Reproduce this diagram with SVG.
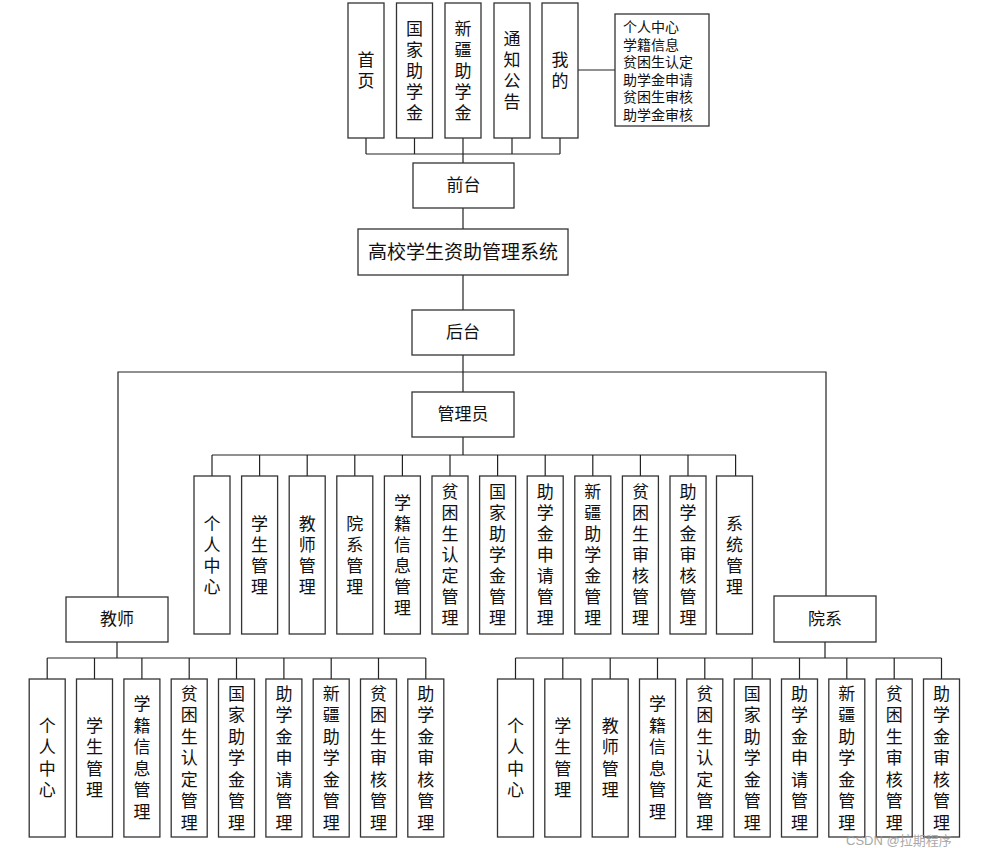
<svg xmlns="http://www.w3.org/2000/svg" width="986" height="848" viewBox="0 0 986 848">
<style>
.box{fill:#fff;stroke:#333;stroke-width:1.3}
.t{font-family:"Liberation Serif","Noto Sans CJK SC",serif;font-size:17px;fill:#111;text-anchor:middle;dominant-baseline:central}
.v{font-family:"Liberation Serif","Noto Sans CJK SC",serif;font-size:17px;fill:#111;text-anchor:middle;dominant-baseline:central}
.s{font-family:"Liberation Serif","Noto Sans CJK SC",serif;font-size:14px;fill:#111;dominant-baseline:central}
.ln{fill:none;stroke:#222;stroke-width:1.2}
.wm{font-family:"Liberation Sans","Noto Sans CJK SC",sans-serif;font-size:13px;fill:#9a9a9a;opacity:0.85}
</style>
<rect width="986" height="848" fill="#fff"/>
<g id="connectors" class="ln">
<path d="M366 138V154M414.5 138V154M463 138V154M512 138V154M560 138V154M366 154H560M463 154V163"/>
<path d="M578 70H615"/>
<path d="M463 208V229M463 275V310M463 355V392"/>
<path d="M118 597V372H826V596"/>
<path d="M463 437V455M212 455H736"/>
<path d="M212 455V476M259.6 455V476M307.2 455V476M354.8 455V476M402.4 455V476M450 455V476M497.6 455V476M545.2 455V476M592.8 455V476M640.4 455V476M688 455V476M735.6 455V476"/>
<path d="M117 642V658M47.2 658H425.8"/>
<path d="M47.2 658V679M94.5 658V679M141.9 658V679M189.2 658V679M236.5 658V679M283.9 658V679M331.2 658V679M378.5 658V679M425.8 658V679"/>
<path d="M825 642V658M515.5 658H941.5"/>
<path d="M515.5 658V679M562.8 658V679M610.2 658V679M657.5 658V679M704.8 658V679M752.2 658V679M799.5 658V679M846.8 658V679M894.2 658V679M941.5 658V679"/>
</g>
<g id="top-home"><rect class="box" x="348" y="3" width="36" height="135"/><text class="v"><tspan x="366" y="60">首</tspan><tspan x="366" dy="21">页</tspan></text></g>
<g id="top-national"><rect class="box" x="396.5" y="3" width="36" height="135"/><text class="v"><tspan x="414.5" y="28.5">国</tspan><tspan x="414.5" dy="21">家</tspan><tspan x="414.5" dy="21">助</tspan><tspan x="414.5" dy="21">学</tspan><tspan x="414.5" dy="21">金</tspan></text></g>
<g id="top-xinjiang"><rect class="box" x="445" y="3" width="36" height="135"/><text class="v"><tspan x="463" y="28.5">新</tspan><tspan x="463" dy="21">疆</tspan><tspan x="463" dy="21">助</tspan><tspan x="463" dy="21">学</tspan><tspan x="463" dy="21">金</tspan></text></g>
<g id="top-notice"><rect class="box" x="494" y="3" width="36" height="135"/><text class="v"><tspan x="512" y="39">通</tspan><tspan x="512" dy="21">知</tspan><tspan x="512" dy="21">公</tspan><tspan x="512" dy="21">告</tspan></text></g>
<g id="top-mine"><rect class="box" x="542" y="3" width="36" height="135"/><text class="v"><tspan x="560" y="60">我</tspan><tspan x="560" dy="21">的</tspan></text></g>
<g id="mine-list"><rect class="box" x="615" y="14" width="94" height="112"/><text class="s"><tspan x="623" y="27">个人中心</tspan><tspan x="623" y="44.5">学籍信息</tspan><tspan x="623" y="62">贫困生认定</tspan><tspan x="623" y="79.5">助学金申请</tspan><tspan x="623" y="97">贫困生审核</tspan><tspan x="623" y="114.5">助学金审核</tspan></text></g>
<g id="frontend"><rect class="box" x="413" y="163" width="101" height="45"/><text class="t" x="463.5" y="185.5">前台</text></g>
<g id="system"><rect class="box" x="358" y="229" width="210" height="46"/><text class="t" x="463" y="252" style="font-size:19px">高校学生资助管理系统</text></g>
<g id="backend"><rect class="box" x="412" y="310" width="102" height="45"/><text class="t" x="463" y="332.5">后台</text></g>
<g id="admin"><rect class="box" x="412" y="392" width="102" height="45"/><text class="t" x="463" y="414.5">管理员</text></g>
<g id="teacher"><rect class="box" x="66" y="597" width="102" height="45"/><text class="t" x="117" y="619.5">教师</text></g>
<g id="dept"><rect class="box" x="774" y="596" width="102" height="46"/><text class="t" x="825" y="619">院系</text></g>

<g id="a1"><rect class="box" x="194" y="476" width="36" height="158"/><text class="v"><tspan x="212" y="523.5">个</tspan><tspan x="212" dy="21">人</tspan><tspan x="212" dy="21">中</tspan><tspan x="212" dy="21">心</tspan></text></g>
<g id="a2"><rect class="box" x="241.6" y="476" width="36" height="158"/><text class="v"><tspan x="259.6" y="523.5">学</tspan><tspan x="259.6" dy="21">生</tspan><tspan x="259.6" dy="21">管</tspan><tspan x="259.6" dy="21">理</tspan></text></g>
<g id="a3"><rect class="box" x="289.2" y="476" width="36" height="158"/><text class="v"><tspan x="307.2" y="523.5">教</tspan><tspan x="307.2" dy="21">师</tspan><tspan x="307.2" dy="21">管</tspan><tspan x="307.2" dy="21">理</tspan></text></g>
<g id="a4"><rect class="box" x="336.8" y="476" width="36" height="158"/><text class="v"><tspan x="354.8" y="523.5">院</tspan><tspan x="354.8" dy="21">系</tspan><tspan x="354.8" dy="21">管</tspan><tspan x="354.8" dy="21">理</tspan></text></g>
<g id="a5"><rect class="box" x="384.4" y="476" width="36" height="158"/><text class="v"><tspan x="402.4" y="502.5">学</tspan><tspan x="402.4" dy="21">籍</tspan><tspan x="402.4" dy="21">信</tspan><tspan x="402.4" dy="21">息</tspan><tspan x="402.4" dy="21">管</tspan><tspan x="402.4" dy="21">理</tspan></text></g>
<g id="a6"><rect class="box" x="432" y="476" width="36" height="158"/><text class="v"><tspan x="450" y="492">贫</tspan><tspan x="450" dy="21">困</tspan><tspan x="450" dy="21">生</tspan><tspan x="450" dy="21">认</tspan><tspan x="450" dy="21">定</tspan><tspan x="450" dy="21">管</tspan><tspan x="450" dy="21">理</tspan></text></g>
<g id="a7"><rect class="box" x="479.6" y="476" width="36" height="158"/><text class="v"><tspan x="497.6" y="492">国</tspan><tspan x="497.6" dy="21">家</tspan><tspan x="497.6" dy="21">助</tspan><tspan x="497.6" dy="21">学</tspan><tspan x="497.6" dy="21">金</tspan><tspan x="497.6" dy="21">管</tspan><tspan x="497.6" dy="21">理</tspan></text></g>
<g id="a8"><rect class="box" x="527.2" y="476" width="36" height="158"/><text class="v"><tspan x="545.2" y="492">助</tspan><tspan x="545.2" dy="21">学</tspan><tspan x="545.2" dy="21">金</tspan><tspan x="545.2" dy="21">申</tspan><tspan x="545.2" dy="21">请</tspan><tspan x="545.2" dy="21">管</tspan><tspan x="545.2" dy="21">理</tspan></text></g>
<g id="a9"><rect class="box" x="574.8" y="476" width="36" height="158"/><text class="v"><tspan x="592.8" y="492">新</tspan><tspan x="592.8" dy="21">疆</tspan><tspan x="592.8" dy="21">助</tspan><tspan x="592.8" dy="21">学</tspan><tspan x="592.8" dy="21">金</tspan><tspan x="592.8" dy="21">管</tspan><tspan x="592.8" dy="21">理</tspan></text></g>
<g id="a10"><rect class="box" x="622.4" y="476" width="36" height="158"/><text class="v"><tspan x="640.4" y="492">贫</tspan><tspan x="640.4" dy="21">困</tspan><tspan x="640.4" dy="21">生</tspan><tspan x="640.4" dy="21">审</tspan><tspan x="640.4" dy="21">核</tspan><tspan x="640.4" dy="21">管</tspan><tspan x="640.4" dy="21">理</tspan></text></g>
<g id="a11"><rect class="box" x="670" y="476" width="36" height="158"/><text class="v"><tspan x="688" y="492">助</tspan><tspan x="688" dy="21">学</tspan><tspan x="688" dy="21">金</tspan><tspan x="688" dy="21">审</tspan><tspan x="688" dy="21">核</tspan><tspan x="688" dy="21">管</tspan><tspan x="688" dy="21">理</tspan></text></g>
<g id="a12"><rect class="box" x="716.5" y="476" width="36" height="158"/><text class="v"><tspan x="734.5" y="523.5">系</tspan><tspan x="734.5" dy="21">统</tspan><tspan x="734.5" dy="21">管</tspan><tspan x="734.5" dy="21">理</tspan></text></g>

<g id="t1"><rect class="box" x="29.2" y="679" width="36" height="158"/><text class="v"><tspan x="47.2" y="725.5">个</tspan><tspan x="47.2" dy="21.5">人</tspan><tspan x="47.2" dy="21.5">中</tspan><tspan x="47.2" dy="21.5">心</tspan></text></g>
<g id="t2"><rect class="box" x="76.5" y="679" width="36" height="158"/><text class="v"><tspan x="94.5" y="725.5">学</tspan><tspan x="94.5" dy="21.5">生</tspan><tspan x="94.5" dy="21.5">管</tspan><tspan x="94.5" dy="21.5">理</tspan></text></g>
<g id="t3"><rect class="box" x="123.9" y="679" width="36" height="158"/><text class="v"><tspan x="141.9" y="704">学</tspan><tspan x="141.9" dy="21.5">籍</tspan><tspan x="141.9" dy="21.5">信</tspan><tspan x="141.9" dy="21.5">息</tspan><tspan x="141.9" dy="21.5">管</tspan><tspan x="141.9" dy="21.5">理</tspan></text></g>
<g id="t4"><rect class="box" x="171.2" y="679" width="36" height="158"/><text class="v"><tspan x="189.2" y="693.5">贫</tspan><tspan x="189.2" dy="21.5">困</tspan><tspan x="189.2" dy="21.5">生</tspan><tspan x="189.2" dy="21.5">认</tspan><tspan x="189.2" dy="21.5">定</tspan><tspan x="189.2" dy="21.5">管</tspan><tspan x="189.2" dy="21.5">理</tspan></text></g>
<g id="t5"><rect class="box" x="218.5" y="679" width="36" height="158"/><text class="v"><tspan x="236.5" y="693.5">国</tspan><tspan x="236.5" dy="21.5">家</tspan><tspan x="236.5" dy="21.5">助</tspan><tspan x="236.5" dy="21.5">学</tspan><tspan x="236.5" dy="21.5">金</tspan><tspan x="236.5" dy="21.5">管</tspan><tspan x="236.5" dy="21.5">理</tspan></text></g>
<g id="t6"><rect class="box" x="265.9" y="679" width="36" height="158"/><text class="v"><tspan x="283.9" y="693.5">助</tspan><tspan x="283.9" dy="21.5">学</tspan><tspan x="283.9" dy="21.5">金</tspan><tspan x="283.9" dy="21.5">申</tspan><tspan x="283.9" dy="21.5">请</tspan><tspan x="283.9" dy="21.5">管</tspan><tspan x="283.9" dy="21.5">理</tspan></text></g>
<g id="t7"><rect class="box" x="313.2" y="679" width="36" height="158"/><text class="v"><tspan x="331.2" y="693.5">新</tspan><tspan x="331.2" dy="21.5">疆</tspan><tspan x="331.2" dy="21.5">助</tspan><tspan x="331.2" dy="21.5">学</tspan><tspan x="331.2" dy="21.5">金</tspan><tspan x="331.2" dy="21.5">管</tspan><tspan x="331.2" dy="21.5">理</tspan></text></g>
<g id="t8"><rect class="box" x="360.5" y="679" width="36" height="158"/><text class="v"><tspan x="378.5" y="693.5">贫</tspan><tspan x="378.5" dy="21.5">困</tspan><tspan x="378.5" dy="21.5">生</tspan><tspan x="378.5" dy="21.5">审</tspan><tspan x="378.5" dy="21.5">核</tspan><tspan x="378.5" dy="21.5">管</tspan><tspan x="378.5" dy="21.5">理</tspan></text></g>
<g id="t9"><rect class="box" x="407.8" y="679" width="36" height="158"/><text class="v"><tspan x="425.8" y="693.5">助</tspan><tspan x="425.8" dy="21.5">学</tspan><tspan x="425.8" dy="21.5">金</tspan><tspan x="425.8" dy="21.5">审</tspan><tspan x="425.8" dy="21.5">核</tspan><tspan x="425.8" dy="21.5">管</tspan><tspan x="425.8" dy="21.5">理</tspan></text></g>

<g id="d1"><rect class="box" x="497.5" y="679" width="36" height="158"/><text class="v"><tspan x="515.5" y="725.5">个</tspan><tspan x="515.5" dy="21.5">人</tspan><tspan x="515.5" dy="21.5">中</tspan><tspan x="515.5" dy="21.5">心</tspan></text></g>
<g id="d2"><rect class="box" x="544.8" y="679" width="36" height="158"/><text class="v"><tspan x="562.8" y="725.5">学</tspan><tspan x="562.8" dy="21.5">生</tspan><tspan x="562.8" dy="21.5">管</tspan><tspan x="562.8" dy="21.5">理</tspan></text></g>
<g id="d3"><rect class="box" x="592.2" y="679" width="36" height="158"/><text class="v"><tspan x="610.2" y="725.5">教</tspan><tspan x="610.2" dy="21.5">师</tspan><tspan x="610.2" dy="21.5">管</tspan><tspan x="610.2" dy="21.5">理</tspan></text></g>
<g id="d4"><rect class="box" x="639.5" y="679" width="36" height="158"/><text class="v"><tspan x="657.5" y="704">学</tspan><tspan x="657.5" dy="21.5">籍</tspan><tspan x="657.5" dy="21.5">信</tspan><tspan x="657.5" dy="21.5">息</tspan><tspan x="657.5" dy="21.5">管</tspan><tspan x="657.5" dy="21.5">理</tspan></text></g>
<g id="d5"><rect class="box" x="686.8" y="679" width="36" height="158"/><text class="v"><tspan x="704.8" y="693.5">贫</tspan><tspan x="704.8" dy="21.5">困</tspan><tspan x="704.8" dy="21.5">生</tspan><tspan x="704.8" dy="21.5">认</tspan><tspan x="704.8" dy="21.5">定</tspan><tspan x="704.8" dy="21.5">管</tspan><tspan x="704.8" dy="21.5">理</tspan></text></g>
<g id="d6"><rect class="box" x="734.2" y="679" width="36" height="158"/><text class="v"><tspan x="752.2" y="693.5">国</tspan><tspan x="752.2" dy="21.5">家</tspan><tspan x="752.2" dy="21.5">助</tspan><tspan x="752.2" dy="21.5">学</tspan><tspan x="752.2" dy="21.5">金</tspan><tspan x="752.2" dy="21.5">管</tspan><tspan x="752.2" dy="21.5">理</tspan></text></g>
<g id="d7"><rect class="box" x="781.5" y="679" width="36" height="158"/><text class="v"><tspan x="799.5" y="693.5">助</tspan><tspan x="799.5" dy="21.5">学</tspan><tspan x="799.5" dy="21.5">金</tspan><tspan x="799.5" dy="21.5">申</tspan><tspan x="799.5" dy="21.5">请</tspan><tspan x="799.5" dy="21.5">管</tspan><tspan x="799.5" dy="21.5">理</tspan></text></g>
<g id="d8"><rect class="box" x="828.8" y="679" width="36" height="158"/><text class="v"><tspan x="846.8" y="693.5">新</tspan><tspan x="846.8" dy="21.5">疆</tspan><tspan x="846.8" dy="21.5">助</tspan><tspan x="846.8" dy="21.5">学</tspan><tspan x="846.8" dy="21.5">金</tspan><tspan x="846.8" dy="21.5">管</tspan><tspan x="846.8" dy="21.5">理</tspan></text></g>
<g id="d9"><rect class="box" x="876.2" y="679" width="36" height="158"/><text class="v"><tspan x="894.2" y="693.5">贫</tspan><tspan x="894.2" dy="21.5">困</tspan><tspan x="894.2" dy="21.5">生</tspan><tspan x="894.2" dy="21.5">审</tspan><tspan x="894.2" dy="21.5">核</tspan><tspan x="894.2" dy="21.5">管</tspan><tspan x="894.2" dy="21.5">理</tspan></text></g>
<g id="d10"><rect class="box" x="923.5" y="679" width="36" height="158"/><text class="v"><tspan x="941.5" y="693.5">助</tspan><tspan x="941.5" dy="21.5">学</tspan><tspan x="941.5" dy="21.5">金</tspan><tspan x="941.5" dy="21.5">审</tspan><tspan x="941.5" dy="21.5">核</tspan><tspan x="941.5" dy="21.5">管</tspan><tspan x="941.5" dy="21.5">理</tspan></text></g>

<text class="wm" x="846" y="845">CSDN @拉期程序</text>
</svg>
